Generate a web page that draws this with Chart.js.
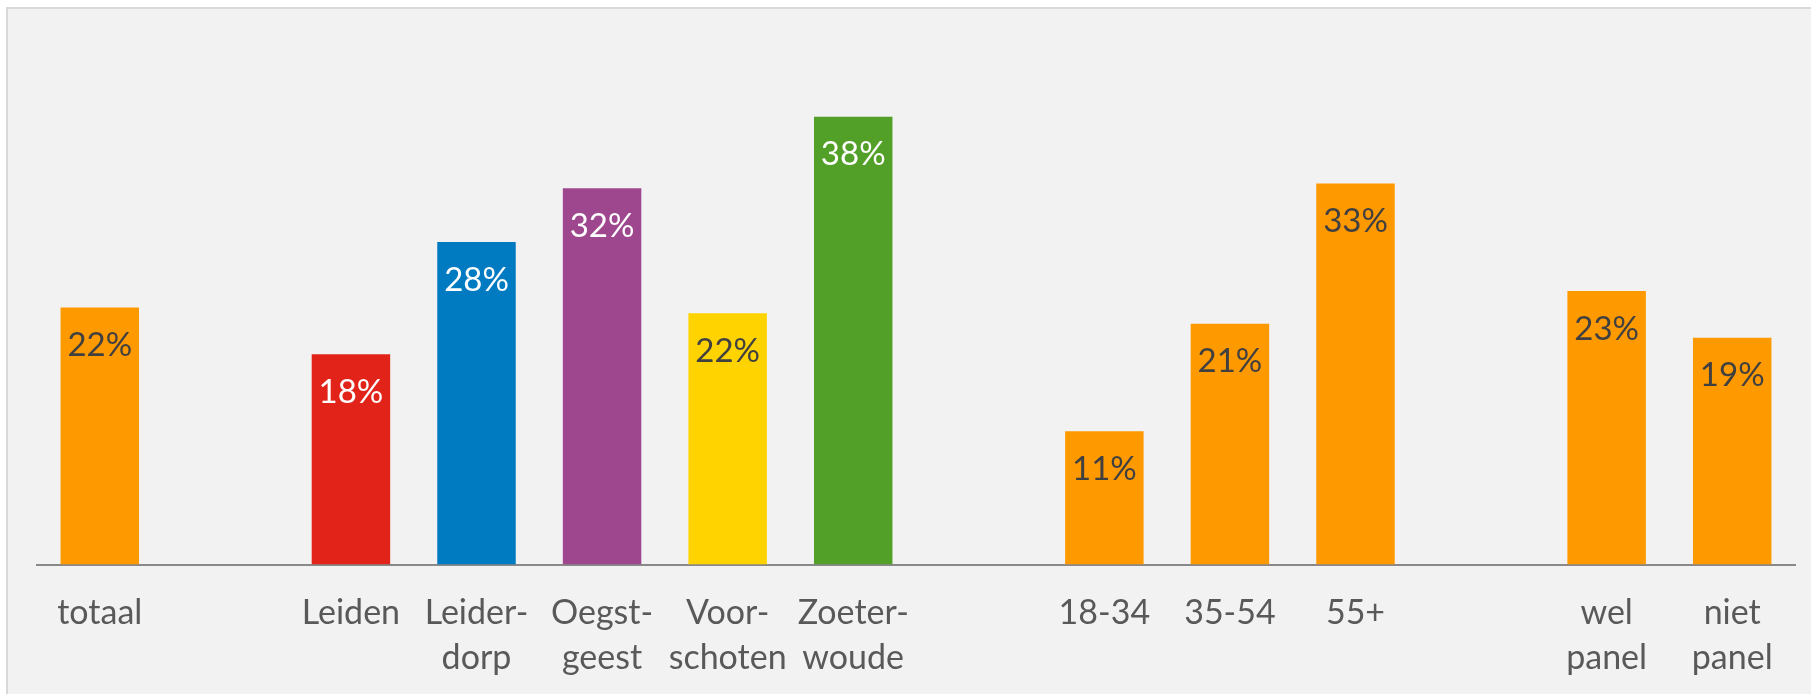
<!DOCTYPE html>
<html>
<head>
<meta charset="utf-8">
<script src="https://cdn.jsdelivr.net/npm/chart.js@4"></script>
<style>
  html, body { margin: 0; padding: 0; background: #ffffff; overflow: hidden; }
  #wrap { position: relative; width: 1811px; height: 694px; overflow: hidden; }
  canvas { display: block; }
</style>
</head>
<body>
<div id="wrap"><canvas id="c" width="1811" height="723"></canvas></div>
<script>
const categories = [
  'totaal', '', 'Leiden', ['Leider-', 'dorp'], ['Oegst-', 'geest'], ['Voor-', 'schoten'], ['Zoeter-', 'woude'],
  '', '18-34', '35-54', '55+', '', ['wel', 'panel'], ['niet', 'panel']
];
const values = [22.0, null, 18.0, 27.6, 32.2, 21.5, 38.3, null, 11.4, 20.6, 32.6, null, 23.4, 19.4];
const barColors = ['#FF9900', null, '#E2231A', '#007AC1', '#9E478F', '#FFD300', '#52A027', null,
  '#FF9900', '#FF9900', '#FF9900', null, '#FF9900', '#FF9900'];
const labelColors = ['#404040', null, '#FFFFFF', '#FFFFFF', '#FFFFFF', '#404040', '#FFFFFF', null,
  '#404040', '#404040', '#404040', null, '#404040', '#404040'];
const yMax = 45;

const FONT = 'Lato, "Open Sans", sans-serif';

const bgPlugin = {
  id: 'bg',
  beforeDraw(chart) {
    const ctx = chart.ctx;
    ctx.save();
    ctx.fillStyle = '#ffffff';
    ctx.fillRect(0, 0, chart.width, chart.height);
    ctx.fillStyle = '#f2f2f2';
    ctx.fillRect(7, 8, chart.width - 7, chart.height - 8);
    ctx.strokeStyle = '#d9d9d9';
    ctx.lineWidth = 2;
    ctx.beginPath();
    ctx.moveTo(7, chart.height);
    ctx.lineTo(7, 8);
    ctx.lineTo(chart.width, 8);
    ctx.stroke();
    ctx.restore();
  }
};

const labelPlugin = {
  id: 'barLabels',
  afterDatasetsDraw(chart) {
    const ctx = chart.ctx;
    const meta = chart.getDatasetMeta(0);
    ctx.save();
    ctx.font = '33px ' + FONT;
    ctx.textAlign = 'center';
    ctx.textBaseline = 'middle';
    meta.data.forEach((bar, i) => {
      const v = values[i];
      if (v === null || v === undefined) return;
      ctx.fillStyle = labelColors[i];
      ctx.fillText(Math.round(v) + '%', bar.x, bar.y + 38);
    });
    ctx.restore();
  }
};

new Chart(document.getElementById('c'), {
  type: 'bar',
  data: {
    labels: categories,
    datasets: [{
      data: values,
      backgroundColor: barColors,
      borderWidth: 0,
      barPercentage: 0.625,
      categoryPercentage: 1.0
    }]
  },
  options: {
    responsive: false,
    animation: false,
    devicePixelRatio: 1,
    layout: { padding: { left: 37, right: 16, top: 38.5, bottom: 16 } },
    plugins: {
      legend: { display: false },
      tooltip: { enabled: false },
      title: { display: false }
    },
    scales: {
      x: {
        grid: { display: false, drawTicks: false },
        border: { display: true, color: '#898989', width: 2 },
        ticks: {
          color: '#595959',
          font: { family: FONT, size: 34, lineHeight: 1.33 },
          padding: 26,
          maxRotation: 0,
          autoSkip: false
        }
      },
      y: {
        display: false,
        min: 0,
        max: yMax
      }
    }
  },
  plugins: [bgPlugin, labelPlugin]
});
</script>
</body>
</html>
